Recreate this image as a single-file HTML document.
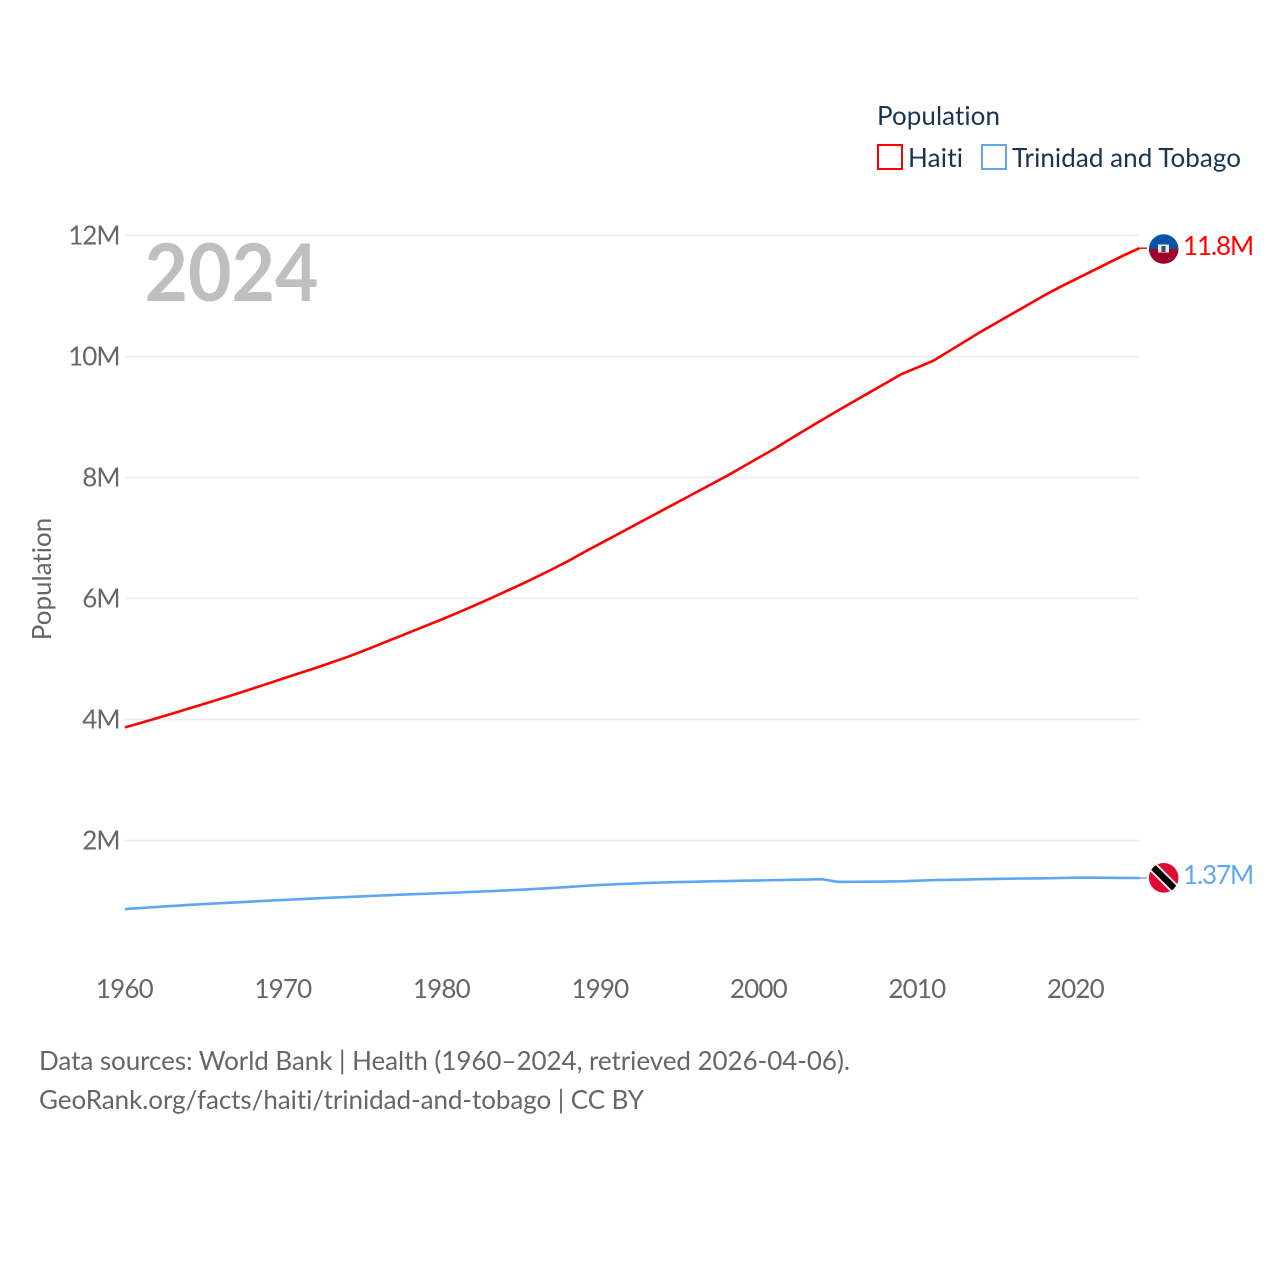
<!DOCTYPE html>
<html lang="en">
<head>
<meta charset="utf-8">
<title>Population: Haiti and Trinidad and Tobago</title>
<style>
html,body{margin:0;padding:0;background:#fff;}
svg{display:block;font-family:"Lato","Carlito","Liberation Sans",sans-serif;font-variant-ligatures:none;font-feature-settings:"liga" 0,"clig" 0;}
</style>
</head>
<body>
<svg id="chart" width="1280" height="1280" viewBox="0 0 1280 1280" xmlns="http://www.w3.org/2000/svg">
  <defs>
    <clipPath id="flag-clip-ht"><circle cx="1163.7" cy="249" r="14.8"></circle></clipPath>
    <clipPath id="flag-clip-tt"><circle cx="1163.7" cy="877.8" r="14.8"></circle></clipPath>
  </defs>
  <rect x="0" y="0" width="1280" height="1280" fill="#fff"></rect>
  <g id="grid"></g>
  <g id="yticks"></g>
  <g id="xticks"></g>
  <text transform="translate(51,579) rotate(-90)" text-anchor="middle" font-size="26" fill="#666">Population</text>
  <text x="144.5" y="301" font-size="80" font-weight="700" fill="#bfbfbf" textLength="174" lengthAdjust="spacingAndGlyphs">2024</text>
  <g id="lines"></g>

  <g clip-path="url(#flag-clip-ht)">
    <rect x="1148" y="234" width="32" height="15" fill="#0a52a8"></rect>
    <rect x="1148" y="249" width="32" height="15" fill="#a0002c"></rect>
    <rect x="1158" y="244.5" width="11" height="8" fill="#e8e8e8"></rect>
    <rect x="1161.5" y="246" width="4" height="6" fill="#33506e"></rect>
  </g>
  <g clip-path="url(#flag-clip-tt)">
    <rect x="1148" y="862" width="32" height="32" fill="#de0a33"></rect>
    <line x1="1148" y1="862" x2="1180" y2="894" stroke="#fff" stroke-width="10"></line>
    <line x1="1148" y1="862" x2="1180" y2="894" stroke="#000" stroke-width="6.5"></line>
  </g>
  <text id="label-ht" x="1183" y="255" font-size="26" fill="#ff0000" letter-spacing="-1.1"></text>
  <text id="label-tt" x="1183" y="884" font-size="26" fill="#5ea6f2" letter-spacing="-1.1"></text>

  <g>
    <text x="877" y="125" font-size="26" fill="#1a3353" textLength="123" lengthAdjust="spacing">Population</text>
    <g>
      <rect x="878" y="145" width="24" height="24" fill="#fff" stroke="#ff0000" stroke-width="2"></rect>
      <text x="908" y="167" font-size="26" fill="#1a3353" textLength="55" lengthAdjust="spacing">Haiti</text>
    </g>
    <g>
      <rect x="982" y="145" width="24" height="24" fill="#fff" stroke="#5ea6f2" stroke-width="2"></rect>
      <text x="1012" y="167" font-size="26" fill="#1a3353" textLength="229" lengthAdjust="spacing">Trinidad and Tobago</text>
    </g>
  </g>

  <text x="39" y="1070" font-size="26" fill="#666" textLength="811" lengthAdjust="spacing">Data sources: World Bank | Health (1960–2024, retrieved 2026-04-06).</text>
  <text x="39" y="1109" font-size="26" fill="#666" textLength="605" lengthAdjust="spacing">GeoRank.org/facts/haiti/trinidad-and-tobago | CC BY</text>
</svg>
<script>
const startYear = 1960;
const xTickYears = [1960, 1970, 1980, 1990, 2000, 2010, 2020];
const yTickValues = [2, 4, 6, 8, 10, 12];
const yTickLabels = ['2M', '4M', '6M', '8M', '10M', '12M'];
const haitiValues = [3.87, 3.945, 4.021, 4.099, 4.179, 4.259, 4.34, 4.422, 4.506, 4.592, 4.68,
  4.765, 4.85, 4.94, 5.03, 5.13, 5.235, 5.34, 5.445, 5.55, 5.655,
  5.765, 5.88, 5.995, 6.115, 6.235, 6.36, 6.49, 6.625, 6.77, 6.91,
  7.05, 7.19, 7.33, 7.47, 7.61, 7.75, 7.89, 8.03, 8.18, 8.33,
  8.48, 8.64, 8.80, 8.955, 9.11, 9.26, 9.41, 9.56, 9.71, 9.82,
  9.93, 10.09, 10.25, 10.41, 10.56, 10.71, 10.86, 11.01, 11.15, 11.28,
  11.41, 11.54, 11.67, 11.79];
const trinidadValues = [0.866, 0.884, 0.902, 0.919, 0.935, 0.95, 0.964, 0.977, 0.99, 1.005, 1.018,
  1.03, 1.042, 1.054, 1.066, 1.078, 1.089, 1.10, 1.11, 1.12, 1.13,
  1.14, 1.151, 1.162, 1.174, 1.187, 1.201, 1.216, 1.232, 1.25, 1.265,
  1.277, 1.288, 1.298, 1.306, 1.313, 1.319, 1.325, 1.33, 1.335, 1.34,
  1.345, 1.35, 1.355, 1.36, 1.315, 1.317, 1.32, 1.322, 1.325, 1.335,
  1.345, 1.35, 1.355, 1.36, 1.365, 1.37, 1.372, 1.375, 1.38, 1.385,
  1.385, 1.383, 1.382, 1.38];
const endLabels = ['11.8M', '1.37M'];

const SVGNS = 'http://www.w3.org/2000/svg';
function xScale(year) { return 125 + (year - 1960) * (1139.4 - 125) / 64; }
function yScale(v) { return 961.5 - v * 60.5; }

document.getElementById('label-ht').textContent = endLabels[0];
document.getElementById('label-tt').textContent = endLabels[1];

const grid = document.getElementById('grid');
const yticks = document.getElementById('yticks');
yTickValues.forEach(function (v, i) {
  const l = document.createElementNS(SVGNS, 'line');
  
  
  l.setAttribute('x1', 125);
  l.setAttribute('x2', 1139);
  l.setAttribute('y1', yScale(v));
  l.setAttribute('y2', yScale(v));
  l.setAttribute('stroke', '#ececec');
  l.setAttribute('stroke-width', 1.5);
  grid.appendChild(l);
  const t = document.createElementNS(SVGNS, 'text');
  
  
  t.setAttribute('x', 119.5);
  t.setAttribute('y', yScale(v) + 9);
  t.setAttribute('text-anchor', 'end');
  t.setAttribute('font-size', 26);
  t.setAttribute('letter-spacing', -1);
  t.setAttribute('fill', '#666');
  t.textContent = yTickLabels[i];
  yticks.appendChild(t);
});

const xticks = document.getElementById('xticks');
xTickYears.forEach(function (y) {
  const t = document.createElementNS(SVGNS, 'text');
  
  
  t.setAttribute('x', xScale(y) - 0.6);
  t.setAttribute('y', 998);
  t.setAttribute('text-anchor', 'middle');
  t.setAttribute('font-size', 26);
  t.setAttribute('letter-spacing', -0.8);
  t.setAttribute('fill', '#666');
  t.textContent = y;
  xticks.appendChild(t);
});

const lines = document.getElementById('lines');
function drawSeries(values, color, name) {
  const pts = values.map(function (v, i) {
    return xScale(startYear + i).toFixed(2) + ',' + yScale(v).toFixed(2);
  });
  const last = values[values.length - 1];
  const p = document.createElementNS(SVGNS, 'polyline');
  
  
  p.setAttribute('points', pts.join(' '));
  p.setAttribute('fill', 'none');
  p.setAttribute('stroke', color);
  p.setAttribute('stroke-width', 2.6);
  p.setAttribute('stroke-linejoin', 'round');
  lines.appendChild(p);
  const c = document.createElementNS(SVGNS, 'line');
  
  
  c.setAttribute('x1', xScale(2024));
  c.setAttribute('x2', 1147);
  c.setAttribute('y1', yScale(last));
  c.setAttribute('y2', yScale(last));
  c.setAttribute('stroke', color);
  c.setAttribute('stroke-width', 1.4);
  lines.appendChild(c);
}
drawSeries(haitiValues, '#ff0000', 'haiti');
drawSeries(trinidadValues, '#5ea6f2', 'trinidad-and-tobago');
</script>
</body>
</html>
